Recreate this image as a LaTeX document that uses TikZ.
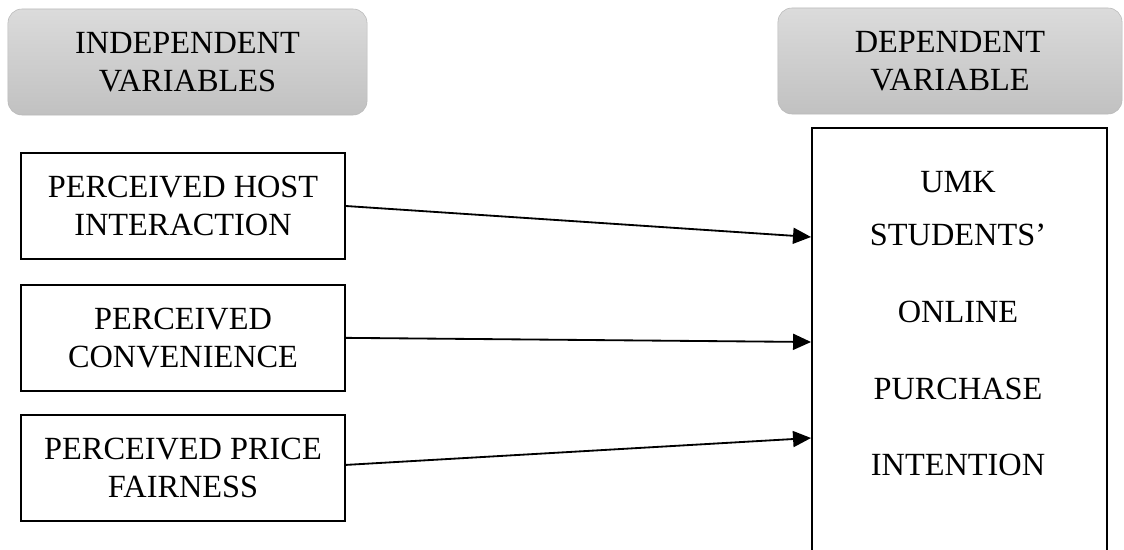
\documentclass[tikz,border=0pt]{standalone}
\usepackage{fontspec}
\setmainfont{Liberation Serif}
\usetikzlibrary{arrows.meta,positioning}

\begin{document}
\begin{tikzpicture}[
    x=0.025cm, y=-0.025cm, % pixel grid
    node distance=0.6cm,
    every node/.style={font=\fontsize{23}{27}\selectfont},
    head/.style={draw=gray!55,rounded corners=10pt,top color={rgb,255:red,219;green,219;blue,219},bottom color={rgb,255:red,193;green,193;blue,193},align=center,minimum height=2.65cm},
    box/.style={draw,line width=1.3pt,align=center,minimum width=8.1cm,minimum height=2.65cm},
    arrow/.style={-{Triangle[length=0.45cm,width=0.4cm]},line width=1.3pt}
]
\clip (0,0) rectangle (1124,550);
\fill[white] (0,0) rectangle (1124,550);

% Headers
\node[head,minimum width=8.975cm] (ivhead) at (187.5,62) {INDEPENDENT\\VARIABLES};
\node[head,minimum width=8.6cm] (dvhead) at (950,61) {DEPENDENT\\VARIABLE};

% Independent variables
\node[box] (iv1) at (183,206) {PERCEIVED HOST\\INTERACTION};
\node[box] (iv2) [below=of iv1] {PERCEIVED\\CONVENIENCE};
\node[box] (iv3) [below=0.55cm of iv2] {PERCEIVED PRICE\\FAIRNESS};

% Dependent variable
\node[draw,line width=1.3pt,minimum width=7.375cm,minimum height=12cm] (dv) at (959.5,368) {};
\node[align=center] (dvtext) at (958,324) {UMK\\[0.37cm]STUDENTS'\\[0.97cm]ONLINE\\[0.97cm]PURCHASE\\[0.97cm]INTENTION};

% Arrow ends on the left side of dv
\coordinate (t1) at (dv.west |- 0,237);
\coordinate (t2) at (dv.west |- 0,342);
\coordinate (t3) at (dv.west |- 0,438);

\draw[arrow] (iv1.east) -- (t1);
\draw[arrow] (iv2.east) -- (t2);
\draw[arrow] ([yshift=2pt]iv3.east) -- (t3);

\end{tikzpicture}
\end{document}
